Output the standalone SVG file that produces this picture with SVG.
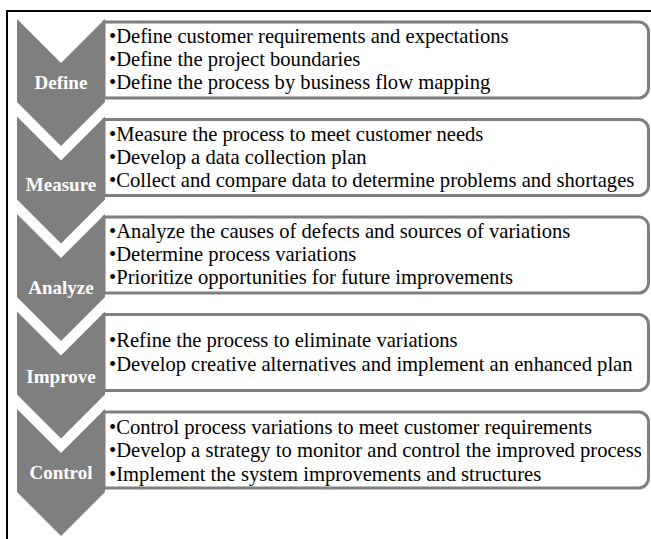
<svg xmlns="http://www.w3.org/2000/svg" width="651" height="539" viewBox="0 0 651 539">
  <style>
    .chev { fill: #7f7f7f; }
    .box { fill: #ffffff; stroke: #7f7f7f; stroke-width: 3; }
    text { font-family: 'Liberation Serif', 'Times New Roman', Times, serif; }
    .lbl { font-size: 19px; font-weight: bold; fill: #ffffff; text-anchor: middle; }
    .txt { font-size: 20.6px; fill: #000000; }
    .frame { stroke: #000000; stroke-width: 2; fill: none; }
  </style>
  <defs>
    <!-- downward chevron: notch at top, point at bottom -->
    <polygon id="chevron" points="17,0 61,44 105,0 105,83 61,127 17,83"/>
    <!-- list box: square left side, rounded right corners -->
    <path id="listbox" d="M104,0 H638.5 A10,10 0 0 1 648.5,10 V66 A10,10 0 0 1 638.5,76 H104 Z"/>
  </defs>

  <!-- outer frame (top and left edges) -->
  <path class="frame" d="M7,539 V11 H651"/>

  <g id="define">
    <use href="#listbox" class="box" transform="translate(0,22)"/>
    <use href="#chevron" class="chev" transform="translate(0,19)"/>
    <text class="lbl" x="61" y="89">Define</text>
    <text class="txt" x="109" y="43">•Define customer requirements and expectations</text>
    <text class="txt" x="109" y="66">•Define the project boundaries</text>
    <text class="txt" x="109" y="89">•Define the process by business flow mapping</text>
  </g>

  <g id="measure">
    <use href="#listbox" class="box" transform="translate(0,119.5)"/>
    <use href="#chevron" class="chev" transform="translate(0,116.5)"/>
    <text class="lbl" x="61" y="191">Measure</text>
    <text class="txt" x="109" y="140.5">•Measure the process to meet customer needs</text>
    <text class="txt" x="109" y="163.5">•Develop a data collection plan</text>
    <text class="txt" x="109" y="186.5">•Collect and compare data to determine problems and shortages</text>
  </g>

  <g id="analyze">
    <use href="#listbox" class="box" transform="translate(0,217)"/>
    <use href="#chevron" class="chev" transform="translate(0,214)"/>
    <text class="lbl" x="61" y="294">Analyze</text>
    <text class="txt" x="109" y="238">•Analyze the causes of defects and sources of variations</text>
    <text class="txt" x="109" y="261">•Determine process variations</text>
    <text class="txt" x="109" y="284">•Prioritize opportunities for future improvements</text>
  </g>

  <g id="improve">
    <use href="#listbox" class="box" transform="translate(0,314.5)"/>
    <use href="#chevron" class="chev" transform="translate(0,311.5)"/>
    <text class="lbl" x="61" y="383">Improve</text>
    <text class="txt" x="109" y="346.5">•Refine the process to eliminate variations</text>
    <text class="txt" x="109" y="370.5">•Develop creative alternatives and implement an enhanced plan</text>
  </g>

  <g id="control">
    <use href="#listbox" class="box" transform="translate(0,412)"/>
    <use href="#chevron" class="chev" transform="translate(0,409)"/>
    <text class="lbl" x="61" y="479">Control</text>
    <text class="txt" x="109" y="433.5">•Control process variations to meet customer requirements</text>
    <text class="txt" x="109" y="457">•Develop a strategy to monitor and control the improved process</text>
    <text class="txt" x="109" y="480.5">•Implement the system improvements and structures</text>
  </g>
</svg>
